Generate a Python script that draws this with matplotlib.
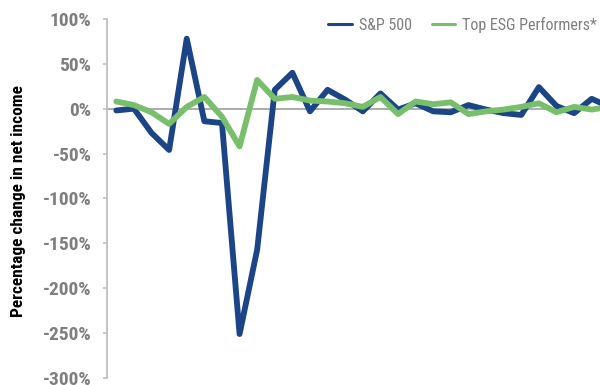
import numpy as np
import matplotlib
matplotlib.use('Agg')
from matplotlib import pyplot as plt
from matplotlib.ticker import FuncFormatter

# values, % change in net income
sp500 = [-2, 0, -27, -46, 78, -14, -16, -251, -157, 21, 40, -3, 21, 10, -3,
         17, -1, 6, -3, -4, 4, -1, -5, -7, 24, 3, -5, 11, 2]
esg = [8, 4, -4, -17, 2, 13, -9, -42, 32, 11, 13, 9, 8, 6, 2,
       13, -6, 8, 5, 7, -6, -3, -1, 2, 6, -4, 2, -1, 2]
series_names = ['S&P 500', 'Top ESG Performers*']
yticks = [100, 50, 0, -50, -100, -150, -200, -250, -300]

blue = '#1c4587'
green = '#78bf6b'
gray = '#7f7f7f'
font = 'Roboto Condensed'

fig = plt.figure(figsize=(6.0, 3.85), dpi=100)
ax = fig.add_axes([0.178, 0.018, 0.822, 0.933])

x = np.arange(len(sp500))
ax.axhline(0, color='#a6a6a6', lw=1.3, zorder=1)
ax.plot(x, sp500, color=blue, lw=4.2, solid_joinstyle='round',
        solid_capstyle='round', label=series_names[0], zorder=2)
ax.plot(x, esg, color=green, lw=4.2, solid_joinstyle='round',
        solid_capstyle='round', label=series_names[1], zorder=3)

ax.set_xlim(-0.54, 27.47)
ax.set_ylim(-300, 100)
ax.set_yticks(yticks)
ax.yaxis.set_major_formatter(FuncFormatter(lambda v, p: f'{v:.0f}%'))
ax.set_xticks([])

for s in ['top', 'right', 'bottom']:
    ax.spines[s].set_visible(False)
ax.spines['left'].set_color('#bfbfbf')
ax.spines['left'].set_linewidth(1.3)
ax.tick_params(axis='y', direction='out', length=3, width=1.2, color='#bfbfbf',
               pad=8, labelcolor=gray)
for lab in ax.get_yticklabels():
    lab.set_fontfamily(font)
    lab.set_fontsize(14)
    lab.set_fontweight('bold')

fig.text(0.031, 0.478, 'Percentage change in net income', rotation=90,
         ha='center', va='center', fontsize=12.5, fontweight='bold',
         family=font, color='black')

leg = fig.legend(loc='center right', bbox_to_anchor=(597 / 600, 1 - 25 / 385),
                 ncol=2, frameon=False, handlelength=1.45, columnspacing=1.25,
                 handletextpad=0.45, borderpad=0, borderaxespad=0,
                 prop={'family': font, 'size': 11.5})
for line in leg.get_lines():
    line.set_linewidth(2.2)
for t in leg.get_texts():
    t.set_color(gray)

plt.savefig('out.png', dpi=100)
